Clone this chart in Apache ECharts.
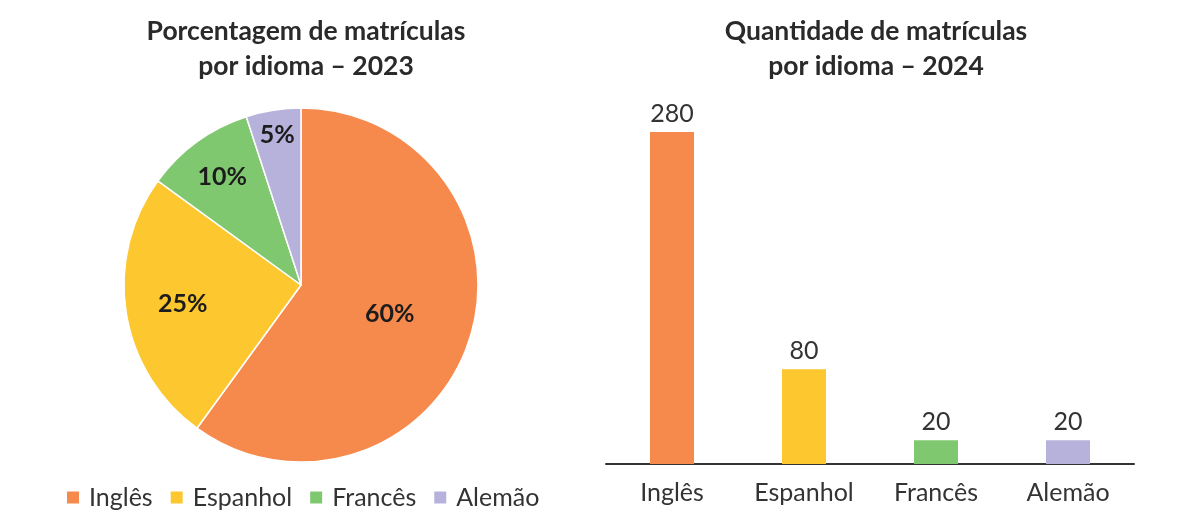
<!DOCTYPE html>
<html>
<head>
<meta charset="utf-8">
<script src="https://cdn.jsdelivr.net/npm/echarts@6/dist/echarts.min.js"></script>
<style>
html,body{margin:0;padding:0;background:#fff;}
#chart{width:1200px;height:522px;}
</style>
</head>
<body>
<div id="chart"></div>
<script>
// Data
const languages = ['Inglês', 'Espanhol', 'Francês', 'Alemão'];
const percent2023 = [60, 25, 10, 5];
const count2024 = [280, 80, 20, 20];
const titlePie = 'Porcentagem de matrículas\npor idioma – 2023';
const titleBar = 'Quantidade de matrículas\npor idioma – 2024';

// Styles
const colors = ['#F68A4D', '#FDC72F', '#80C870', '#B7B2DC'];
const FONT = 'Lato';
const PIE_R = 177;
const labelRadiusFactor = [0.51, 0.66, 0.74, 0.84];

// mid angles (clockwise from top) for label radial offset
const total = percent2023.reduce((a, b) => a + b, 0);
const midAngles = [];
let acc = 0;
percent2023.forEach(v => { midAngles.push((acc + v / 2) / total * 2 * Math.PI); acc += v; });

const chart = echarts.init(document.getElementById('chart'));
chart.setOption({
  animation: false,
  color: colors,
  textStyle: { fontFamily: FONT },
  title: [
    { text: titlePie, left: 301, top: 9, textAlign: 'center',
      textStyle: { fontFamily: FONT, fontWeight: 'bold', fontSize: 26.5, lineHeight: 35, color: '#2a2a2a' } },
    { text: titleBar, left: 871, top: 9, textAlign: 'center',
      textStyle: { fontFamily: FONT, fontWeight: 'bold', fontSize: 26.5, lineHeight: 35, color: '#2a2a2a' } }
  ],
  legend: {
    data: languages,
    left: 60, top: 480,
    itemWidth: 14, itemHeight: 14, itemGap: 16,
    icon: 'rect',
    textStyle: { fontFamily: FONT, fontSize: 25, color: '#333', padding: [0, 0, 0, 4] }
  },
  grid: { left: 606, right: 66, top: 132, bottom: 58 },
  xAxis: {
    type: 'category', data: languages,
    axisLine: { lineStyle: { color: '#333', width: 2 } },
    axisTick: { show: false },
    axisLabel: { fontFamily: FONT, fontSize: 25, color: '#333', margin: 16 }
  },
  yAxis: { type: 'value', min: 0, max: 280, show: false, splitLine: { show: false } },
  series: [
    {
      type: 'pie',
      center: [301, 285],
      radius: PIE_R,
      startAngle: 90,
      clockwise: true,
      label: {
        show: true, position: 'inside',
        formatter: '{c}%',
        fontFamily: FONT, fontWeight: 'bold', fontSize: 25, color: '#1c1c1c'
      },
      labelLine: { show: false },
      labelLayout: function (p) {
        const i = p.dataIndex;
        const d = (labelRadiusFactor[i] - 0.5) * PIE_R;
        return { dx: d * Math.sin(midAngles[i]), dy: -d * Math.cos(midAngles[i]) };
      },
      itemStyle: { borderColor: '#fff', borderWidth: 1.5 },
      emphasis: { disabled: true },
      data: languages.map((n, i) => ({ name: n, value: percent2023[i] }))
    },
    {
      type: 'bar',
      barWidth: 44,
      label: { show: true, position: 'top', distance: 6, fontFamily: FONT, fontSize: 25, color: '#333' },
      data: count2024.map((v, i) => ({ value: v, itemStyle: { color: colors[i] } }))
    }
  ]
});
</script>
</body>
</html>
